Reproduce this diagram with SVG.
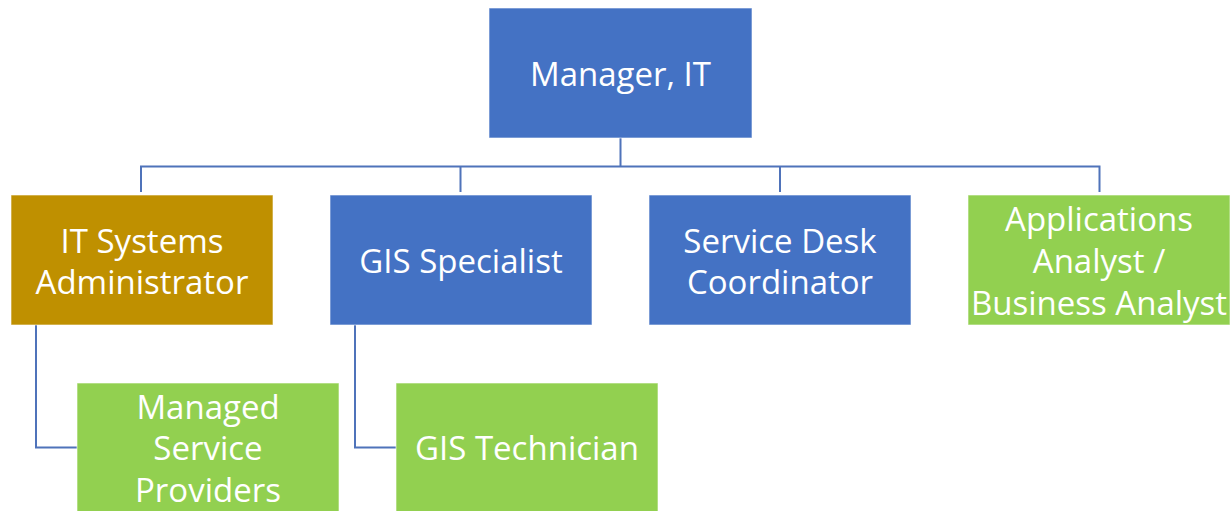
<svg xmlns="http://www.w3.org/2000/svg" width="1232" height="511" viewBox="0 0 1232 511">
<style>
.box{stroke:#ffffff;stroke-width:1;stroke-opacity:0.6}
.blue{fill:#4472C4}
.gold{fill:#BF9000}
.green{fill:#92D050}
.t{font-family:"Open Sans","Liberation Sans",sans-serif;font-size:33px;fill:#ffffff;text-anchor:middle;dominant-baseline:central}
.c{fill:none;stroke:#4F73BA;stroke-width:2}
</style>
<rect width="1232" height="511" fill="#ffffff"/>
<g id="connectors">
<path class="c" d="M620.5 138V166.5M141 192V166.5H1099.5V192M460.5 166.5V192M780 166.5V192"/>
<path class="c" d="M36 325V447.5H77"/>
<path class="c" d="M355 325V447.5H396"/>
</g>
<g id="manager"><rect class="box blue" x="489" y="8" width="263" height="130"/><text class="t" x="620.5" y="73">Manager, IT</text></g>
<g id="itsys"><rect class="box gold" x="11" y="195" width="262" height="130"/><text class="t" x="142" y="240">IT Systems</text><text class="t" x="142" y="281">Administrator</text></g>
<g id="gisspec"><rect class="box blue" x="330" y="195" width="262" height="130"/><text class="t" x="461" y="260">GIS Specialist</text></g>
<g id="servicedesk"><rect class="box blue" x="649" y="195" width="262" height="130"/><text class="t" x="780" y="240">Service Desk</text><text class="t" x="780" y="281">Coordinator</text></g>
<g id="apps"><rect class="box green" x="968" y="195" width="262" height="130"/><text class="t" x="1099" y="218">Applications</text><text class="t" x="1099" y="260">Analyst /</text><text class="t" x="1099" y="302">Business Analyst</text></g>
<g id="msp"><rect class="box green" x="77" y="383" width="262" height="130"/><text class="t" x="208" y="406">Managed</text><text class="t" x="208" y="447">Service</text><text class="t" x="208" y="489">Providers</text></g>
<g id="gistech"><rect class="box green" x="396" y="383" width="262" height="130"/><text class="t" x="527" y="447">GIS Technician</text></g>
</svg>
